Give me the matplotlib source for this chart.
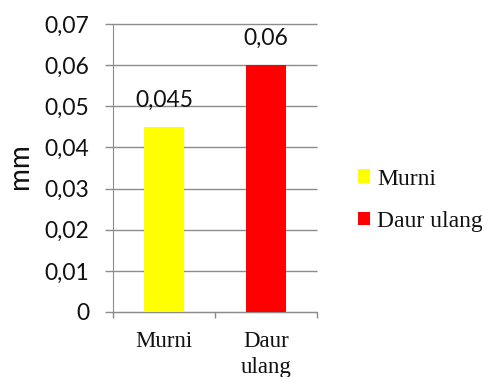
import matplotlib
matplotlib.use("Agg")
import matplotlib.pyplot as plt
from matplotlib.patches import Patch

categories = ["Murni", "Daur\nulang"]
legend_labels = ["Murni", "Daur ulang"]
values = [0.045, 0.06]
value_labels = ["0,045", "0,06"]
colors = ["#FFFF00", "#FF0000"]
yticks = [0, 0.01, 0.02, 0.03, 0.04, 0.05, 0.06, 0.07]
ytick_labels = ["0", "0,01", "0,02", "0,03", "0,04", "0,05", "0,06", "0,07"]

sans = "Lato"
serif = "Liberation Serif"
grid_col = "#8c8c8c"
text_col = "#111111"

fig = plt.figure(figsize=(4.82, 3.77), dpi=100)
ax = fig.add_axes([113 / 482, 1 - 312 / 377, 204 / 482, 288 / 377])

x = list(range(len(categories)))
ax.bar(x, values, width=0.4, color=colors, zorder=3)

for xi, v, lab in zip(x, values, value_labels):
    ax.annotate(lab, (xi, v), xytext=(0, 14.5), textcoords="offset points",
                ha="center", va="baseline", fontsize=16.5, family=sans,
                color=text_col)

ax.set_xlim(-0.5, 1.5)
ax.set_ylim(0, 0.07)
ax.set_yticks(yticks)
ax.set_yticklabels(ytick_labels, fontsize=16.5, family=sans, color=text_col)
ax.set_xticks(x)
ax.set_xticklabels(categories, fontsize=16.5, family=serif, color=text_col,
                   linespacing=1.3)
ax.tick_params(axis="x", length=0, pad=14)
ax.tick_params(axis="y", length=0, pad=17)

# gridlines extend a little to the left of the axis like tick marks
for yt in yticks:
    ax.plot([-0.5 - 8 / 102, 1.5], [yt, yt], color=grid_col, lw=1.0,
            zorder=1, clip_on=False, solid_capstyle="butt")
# category boundary ticks below the axis
for bx in [-0.5, 0.5, 1.5]:
    ax.plot([bx, bx], [0, -6 / 41.1 * 0.01], color=grid_col, lw=1.0,
            clip_on=False, zorder=1, solid_capstyle="butt")

for s in ["top", "right"]:
    ax.spines[s].set_visible(False)
ax.spines["left"].set_color(grid_col)
ax.spines["bottom"].set_color(grid_col)

fig.text(20 / 482, 1 - 166 / 377, "mm", rotation=90, ha="center", va="center",
         fontsize=20, family=sans, color=text_col)

handles = [Patch(facecolor=c, edgecolor="none") for c in colors]
fig.legend(handles, legend_labels, loc="upper left",
           bbox_to_anchor=(341 / 482, 1 - 152 / 377), frameon=False,
           prop={"family": serif, "size": 17}, handlelength=0.52,
           handleheight=0.52, handletextpad=0.3, labelspacing=0.9,
           labelcolor=text_col, borderpad=0.2)

fig.savefig("out.png", dpi=100)
